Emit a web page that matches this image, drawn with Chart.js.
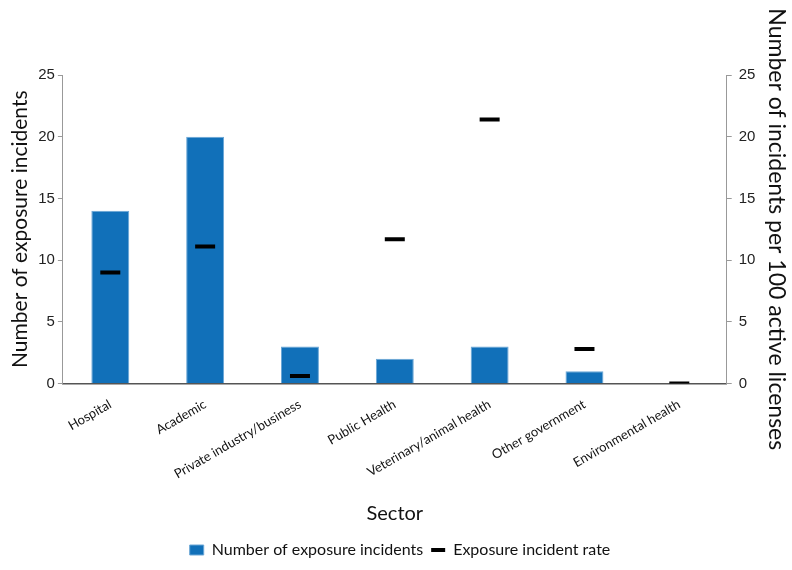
<!DOCTYPE html>
<html>
<head>
<meta charset="utf-8">
<script src="https://cdn.jsdelivr.net/npm/chart.js@4"></script>
<style>
  html,body{margin:0;padding:0;background:#fff;}
  #wrap{width:792px;height:570px;position:relative;}
</style>
</head>
<body>
<div id="wrap"><canvas id="chart" width="792" height="570"></canvas></div>
<script>
  const sectors=['Hospital','Academic','Private industry/business','Public Health','Veterinary/animal health','Other government','Environmental health'];
  const incidentCounts=[14,20,3,2,3,1,0];
  const incidentRates=[9.0,11.1,0.6,11.7,21.4,2.8,0];
  const yTicks=[0,5,10,15,20,25];

  const FONT='Lato, "Noto Sans", sans-serif';
  const TICK_FONT='"Liberation Sans", Arial, sans-serif';

  new Chart(document.getElementById('chart'),{
    type:'bar',
    data:{
      labels:sectors,
      datasets:[
        {label:'Number of exposure incidents',data:incidentCounts,yAxisID:'y',backgroundColor:'#1170b9',borderColor:'#6aa6d6',borderWidth:1,barPercentage:0.4,categoryPercentage:1,pointStyle:'rect',order:2},
        {type:'line',label:'Exposure incident rate',data:incidentRates,yAxisID:'y1',showLine:false,pointStyle:'line',pointRadius:10,pointBorderWidth:4,borderWidth:4,borderColor:'#000',backgroundColor:'#000',order:1}
      ]
    },
    options:{
      responsive:false,
      animation:false,
      layout:{padding:{top:75,left:8,right:0,bottom:2}},
      plugins:{
        tooltip:{enabled:false},
        legend:{
          display:true,position:'bottom',
          labels:{usePointStyle:true,boxWidth:10,boxHeight:10,pointStyleWidth:14,color:'#111',font:{family:FONT,size:16},padding:8,
            sort:(a,b)=>a.datasetIndex-b.datasetIndex}
        }
      },
      scales:{
        x:{
          grid:{display:false},
          border:{display:true,color:'#555',width:1.5},
          ticks:{color:'#111',font:{family:FONT,size:13},maxRotation:30,minRotation:30,autoSkip:false,padding:5},
          title:{display:true,text:'Sector',color:'#111',font:{family:FONT,size:20},padding:{top:8,bottom:8}},
          afterFit:axis=>{axis.height+=7;}
        },
        y:{
          position:'left',min:0,max:25,
          afterBuildTicks:axis=>{axis.ticks=yTicks.map(v=>({value:v}));},
          grid:{display:true,drawOnChartArea:false,drawTicks:true,tickLength:5,color:'#999'},
          border:{display:true,color:'#999'},
          ticks:{color:'#222',font:{family:TICK_FONT,size:15},padding:3},
          title:{display:true,text:'Number of exposure incidents',color:'#111',font:{family:FONT,size:21},padding:{top:0,bottom:2}}
        },
        y1:{
          position:'right',min:0,max:25,
          afterBuildTicks:axis=>{axis.ticks=yTicks.map(v=>({value:v}));},
          grid:{display:true,drawOnChartArea:false,drawTicks:true,tickLength:5,color:'#999'},
          border:{display:true,color:'#999'},
          ticks:{color:'#222',font:{family:TICK_FONT,size:15},padding:7},
          title:{display:true,text:'Number of incidents per 100 active licenses',color:'#111',font:{family:FONT,size:23},padding:{top:2,bottom:0}}
        }
      }
    }
  });
</script>
</body>
</html>
